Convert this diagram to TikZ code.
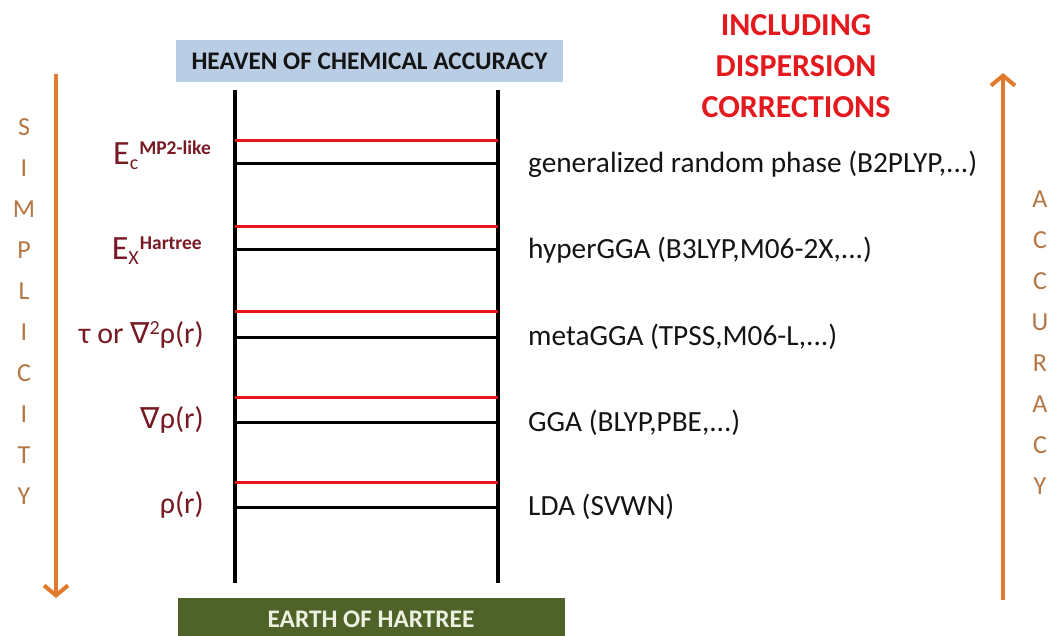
\documentclass[tikz,border=0pt]{standalone}
\usepackage{fontspec}
\setmainfont{Carlito}
\newfontfamily\dvs{DejaVu Sans}
\usetikzlibrary{arrows.meta}
\definecolor{heavenblue}{RGB}{185,205,229}
\definecolor{earthgreen}{RGB}{79,98,40}
\definecolor{earthtext}{RGB}{236,241,226}
\definecolor{rungred}{RGB}{232,20,27}
\definecolor{labred}{RGB}{120,26,36}
\definecolor{arrorange}{RGB}{226,122,44}
\definecolor{lettbrown}{RGB}{180,118,68}
\definecolor{txtdark}{RGB}{20,20,20}
\definecolor{disred}{RGB}{228,25,30}
\tikzset{
  boxlabel/.style={inner sep=0pt, minimum width=387pt, minimum height=42pt,
    font=\fontsize{25.3}{25}\selectfont\bfseries},
  rail/.style={line width=4pt, black},
  redrung/.style={line width=3pt, rungred},
  blackrung/.style={line width=3pt, black},
  rlab/.style={anchor=base west, inner sep=0pt, text=txtdark,
    font=\fontsize{29.3}{29}\selectfont},
  llab/.style={anchor=base east, inner sep=0pt, text=labred,
    font=\fontsize{30}{30}\selectfont},
  letter/.style={inner sep=0pt, text=lettbrown, font=\fontsize{26}{26}\selectfont},
  orarrow/.style={line width=4pt, arrorange,
    -{Straight Barb[length=10pt,width=24pt]}},
}
\begin{document}
\begin{tikzpicture}[x=1pt,y=-1pt]
\useasboundingbox (0,0) rectangle (1052,636);

% boxes
\node[boxlabel, fill=heavenblue, text=txtdark] (heaven) at (369.5,61) {HEAVEN OF CHEMICAL ACCURACY};
\node[boxlabel, fill=earthgreen, text=earthtext] (earth) at (371,619) {EARTH OF HARTREE};

% rails
\coordinate (lt) at (235,90);
\coordinate (lb) at (235,583);
\coordinate (rt) at (498,90);
\coordinate (rb) at (498,583);
\draw[rail] (lt) -- (lb);
\draw[rail] (rt) -- (rb);

% rungs
\foreach \i/\yr/\yb in {1/141/164, 2/227/250, 3/312/337, 4/397/422, 5/482/507}{
  \coordinate (redl\i) at (235,\yr);
  \coordinate (redr\i) at (498,\yr);
  \coordinate (blkl\i) at (235,\yb);
  \coordinate (blkr\i) at (498,\yb);
  \draw[redrung] (redl\i) -- (redr\i);
  \draw[blackrung] (blkl\i) -- (blkr\i);
}

% right labels
\node[rlab] (r1) at (528,173) {generalized random phase (B2PLYP,...)};
\node[rlab] (r2) at (528,259) {hyperGGA (B3LYP,M06-2X,...)};
\node[rlab] (r3) at (528,345) {metaGGA (TPSS,M06-L,...)};
\node[rlab] (r4) at (528,431) {GGA (BLYP,PBE,...)};
\node[rlab] (r5) at (528,515) {LDA (SVWN)};

% left labels
\node[llab] (l1) at (211,165) {{\fontsize{34}{34}\selectfont E}\raisebox{-5pt}{\fontsize{20}{20}\selectfont c}\kern1pt\raisebox{10pt}{\fontsize{19.5}{19}\selectfont\bfseries MP2-like}};
\node[llab] (l2) at (202,260) {{\fontsize{34}{34}\selectfont E}\raisebox{-5pt}{\fontsize{20}{20}\selectfont X}\kern1pt\raisebox{10pt}{\fontsize{19.5}{19}\selectfont\bfseries Hartree}};
\node[llab] (l3) at (204,343) {τ or {\dvs\fontsize{29}{29}\selectfont ∇}\raisebox{9pt}{\fontsize{20}{20}\selectfont 2}ρ(r)};
\node[llab] (l4) at (204,428) {{\dvs\fontsize{29}{29}\selectfont ∇}ρ(r)};
\node[llab] (l5) at (204,513) {ρ(r)};

% dispersion note
\node[inner sep=0pt, align=center, text=disred,
  font=\fontsize{32}{41}\selectfont\bfseries] (disp) at (796,66)
  {INCLUDING\\DISPERSION\\CORRECTIONS};

% arrows
\coordinate (sa) at (56,74);
\coordinate (sb) at (56,598);
\draw[orarrow] (sa) -- (sb);
\coordinate (aa) at (1003,600);
\coordinate (ab) at (1003,73);
\draw[orarrow] (aa) -- (ab);

% vertical words
\foreach \ch [count=\k from 0] in {S,I,M,P,L,I,C,I,T,Y}{
  \node[letter] (s\k) at (24,{127+41*\k}) {\ch};
}
\foreach \ch [count=\k from 0] in {A,C,C,U,R,A,C,Y}{
  \node[letter] (a\k) at (1040,{199+41*\k}) {\ch};
}
\end{tikzpicture}
\end{document}
